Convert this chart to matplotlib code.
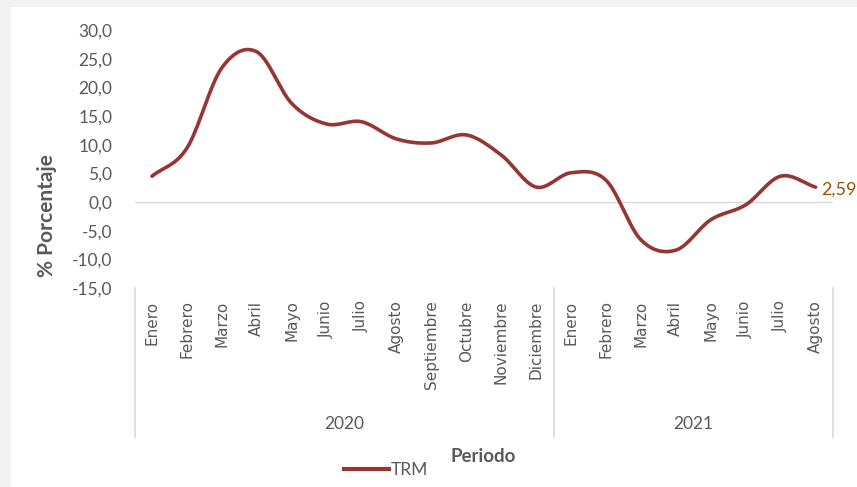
import numpy as np
import matplotlib.pyplot as plt
from matplotlib.patches import Rectangle
from matplotlib.lines import Line2D
import matplotlib.transforms as mtransforms

# Data: monthly TRM variation (%)
months = ['Enero', 'Febrero', 'Marzo', 'Abril', 'Mayo', 'Junio', 'Julio', 'Agosto',
          'Septiembre', 'Octubre', 'Noviembre', 'Diciembre',
          'Enero', 'Febrero', 'Marzo', 'Abril', 'Mayo', 'Junio', 'Julio', 'Agosto']
years = ['2020', '2021']
year_counts = [12, 8]
trm = [4.5, 9.4, 23.4, 26.2, 17.2, 13.6, 14.0, 11.0, 10.3, 11.7, 8.2, 2.6,
       5.1, 3.8, -6.6, -8.4, -3.1, -0.5, 4.5, 2.59]
yticks = [30, 25, 20, 15, 10, 5, 0, -5, -10, -15]

line_color = '#963634'
text_gray = '#595959'

W, H = 857, 487
fig = plt.figure(figsize=(W / 100, H / 100), dpi=100, facecolor='#f2f2f2')
fig.patches.append(Rectangle((11 / W, 0), 1 - 11 / W, 1 - 7 / H, transform=fig.transFigure,
                             facecolor='white', edgecolor='none', zorder=-1))

ax_l, ax_r, ax_t, ax_b = 134.5, 833, 30, 288
ax = fig.add_axes([ax_l / W, 1 - ax_b / H, (ax_r - ax_l) / W, (ax_b - ax_t) / H])
ax.set_facecolor('none')


# smoothed line like Excel (Catmull-Rom through the points)
def smooth(xs, ys, n=30):
    xs = np.asarray(xs, float)
    ys = np.asarray(ys, float)
    px = np.concatenate([[2 * xs[0] - xs[1]], xs, [2 * xs[-1] - xs[-2]]])
    py = np.concatenate([[2 * ys[0] - ys[1]], ys, [2 * ys[-1] - ys[-2]]])
    ox, oy = [], []
    for i in range(1, len(px) - 2):
        t = np.linspace(0, 1, n, endpoint=False)
        for p, o in ((px, ox), (py, oy)):
            p0, p1, p2, p3 = p[i - 1], p[i], p[i + 1], p[i + 2]
            o.extend(0.5 * (2 * p1 + (-p0 + p2) * t + (2 * p0 - 5 * p1 + 4 * p2 - p3) * t ** 2
                            + (-p0 + 3 * p1 - 3 * p2 + p3) * t ** 3))
    ox.append(xs[-1])
    oy.append(ys[-1])
    return np.array(ox), np.array(oy)


x = np.arange(len(trm))
sx, sy = smooth(x, trm)
ax.plot(sx, sy, color=line_color, linewidth=2.6, solid_capstyle='round', zorder=3)
ax.axhline(0, color='#d9d9d9', linewidth=1, zorder=1)

ax.set_xlim(-0.5, len(trm) - 0.5)
ax.set_ylim(-15, 30)
for sp in ax.spines.values():
    sp.set_visible(False)

ax.set_yticks(yticks)
ax.set_yticklabels([f'{v:.1f}'.replace('.', ',') for v in yticks],
                   fontsize=12.5, color=text_gray, family='Lato')
ax.tick_params(axis='y', length=0, pad=16)
ax.set_xticks(x)
ax.set_xticklabels(months, rotation=90, fontsize=11, color=text_gray, family='DejaVu Sans')
ax.tick_params(axis='x', length=0, pad=9)

# two level category axis: separators and years
trans = mtransforms.blended_transform_factory(ax.transData, ax.transAxes)
ybot = (ax_b - 437) / (ax_b - ax_t)
bounds = np.concatenate([[0], np.cumsum(year_counts)]) - 0.5
for b in bounds:
    ax.plot([b, b], [0, ybot], transform=trans, color='#d9d9d9', linewidth=1.2, clip_on=False)
yyear = (ax_b - 424) / (ax_b - ax_t)
for i, yr in enumerate(years):
    ax.text((bounds[i] + bounds[i + 1]) / 2, yyear, yr, transform=trans, ha='center', va='center',
            fontsize=12.5, color=text_gray, family='Lato')

# data label on the last point
ax.annotate(f'{trm[-1]:.2f}'.replace('.', ','), (x[-1], trm[-1]), xytext=(4, -2),
            textcoords='offset points', ha='left', va='center', fontsize=13,
            color='#9c5100', family='Lato', annotation_clip=False)

fig.text(47 / W, 1 - 216 / H, '% Porcentaje', rotation=90, ha='center', va='center',
         fontsize=15, fontweight='bold', color=text_gray, family='Lato')
fig.text(483 / W, 1 - 457 / H, 'Periodo', ha='center', va='center',
         fontsize=13.5, fontweight='bold', color=text_gray, family='Lato')

handle = Line2D([], [], color=line_color, linewidth=3)
fig.legend([handle], ['TRM'], loc='center', bbox_to_anchor=(386 / W, 1 - 470 / H),
           frameon=False, handlelength=2.6, handletextpad=0.05,
           prop={'family': 'Lato', 'size': 12.5}, labelcolor=text_gray)

fig.savefig('out.png', dpi=100, facecolor=fig.get_facecolor())
